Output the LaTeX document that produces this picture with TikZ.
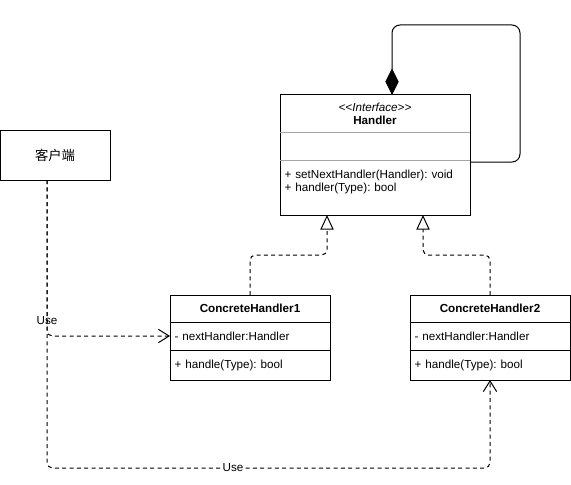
\documentclass[tikz,border=0pt]{standalone}
\usepackage{fontspec}
\setmainfont{Liberation Sans}
\newfontfamily\cjk{Noto Sans CJK SC}
\usepackage{tikz}
\usetikzlibrary{arrows.meta, positioning}
\frenchspacing

\begin{document}
\begin{tikzpicture}[x=0.75pt, y=-0.75pt,
    every node/.style={font=\fontsize{8.75}{9.75}\selectfont, align=center, inner sep=0pt, outer sep=0pt},
    box/.style={draw, rectangle, line width=0.75pt},
    hdr/.style={rectangle, anchor=north west},
    member/.style={rectangle, anchor=north west, align=left, inner xsep=3.5pt, text width=#1},
    frame/.style={line width=0.75pt},
    divider/.style={line width=0.75pt, draw=#1},
    divider/.default=black,
    real/.style={-{Triangle[open, length=11pt, width=10pt]}, line width=0.75pt,
                 dash pattern=on 3pt off 2.5pt, rounded corners=4pt},
    use/.style={-{Straight Barb[length=8pt, width=10pt]}, line width=0.75pt,
                dash pattern=on 3pt off 2.5pt, rounded corners=4pt},
    comp/.style={{Diamond[length=20pt, width=10pt]}-, line width=0.75pt, rounded corners=6pt},
    elabel/.style={inner sep=1pt}
]
\useasboundingbox (0,0) rectangle (571,485);

% interface
\node[hdr, minimum width=142.5pt, minimum height=27.75pt] (hh) at (280,95)
    {{\itshape <\kern0pt<Interface>\kern0pt>}\\ \textbf{Handler}};
\node[hdr, minimum width=142.5pt, minimum height=21pt] (ha) at (hh.south west) {};
\node[member=135.5pt, minimum height=41.25pt] (ho) at (ha.south west)
    {+ setNextHandler(Handler): void\\ + handler(Type): bool\\ ~};
\draw[frame] (hh.north west) rectangle (ho.south east);
\draw[divider=gray!70] (ha.north west) -- (ha.north east);
\draw[divider=gray!70] (ho.north west) -- (ho.north east);

% client
\node[box, minimum width=82.5pt, minimum height=37.5pt, font=\fontsize{10}{12}\selectfont] (cl) at (55,155) {\cjk 客户端};

% concrete handlers
\node[hdr, minimum width=120pt, minimum height=20.25pt] (c1h) at (170,295) {\textbf{ConcreteHandler1}};
\node[member=113pt, minimum height=21pt] (c1a) at (c1h.south west) {- nextHandler:Handler};
\node[member=113pt, minimum height=22.5pt] (c1o) at (c1a.south west) {+ handle(Type): bool};
\draw[frame] (c1h.north west) rectangle (c1o.south east);
\draw[divider] (c1a.north west) -- (c1a.north east);
\draw[divider] (c1o.north west) -- (c1o.north east);

\node[hdr, minimum width=120pt, minimum height=20.25pt] (c2h) at (410,295) {\textbf{ConcreteHandler2}};
\node[member=113pt, minimum height=21pt] (c2a) at (c2h.south west) {- nextHandler:Handler};
\node[member=113pt, minimum height=22.5pt] (c2o) at (c2a.south west) {+ handle(Type): bool};
\draw[frame] (c2h.north west) rectangle (c2o.south east);
\draw[divider] (c2a.north west) -- (c2a.north east);
\draw[divider] (c2o.north west) -- (c2o.north east);

\coordinate (usebot) at (47,468);

% self association
\draw[comp] ([shift={(17,0)}]hh.north) -- ++(0,-70) -| ++(128,137) -- ([shift={(0,2)}]ho.north east);

% realization
\draw[real] (c1h.north) -- ++(0,-40) -| ([shift={(-48,0)}]ho.south);
\draw[real] (c2h.north) -- ++(0,-40) -| ([shift={(48,0)}]ho.south);

% usage
\draw[use] ([shift={(-8,0)}]cl.south) |- node[elabel, pos=0.45] {Use} (c1a.west);
\draw[use] ([shift={(-8,0)}]cl.south) -- (usebot) -| node[elabel, fill=white, pos=0.21] {Use} (c2o.south);
\end{tikzpicture}
\end{document}
